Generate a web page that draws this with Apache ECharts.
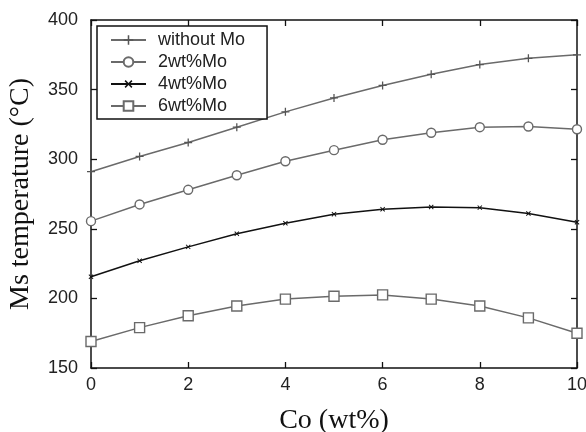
<!DOCTYPE html>
<html>
<head>
<meta charset="utf-8">
<script src="https://cdn.jsdelivr.net/npm/echarts@6/dist/echarts.min.js"></script>
<style>
  html, body { margin: 0; padding: 0; background: #fff; }
  #chart { width: 586px; height: 432px; }
</style>
</head>
<body>
<div id="chart"></div>
<script>
// Co content (wt%)
const coValues = [0, 1, 2, 3, 4, 5, 6, 7, 8, 9, 10];
const seriesNames = ['without Mo', '2wt%Mo', '4wt%Mo', '6wt%Mo'];
// Ms temperature (°C)
const withoutMo = [291, 302, 312, 323, 334, 344, 353, 361, 368, 372.5, 375];
const mo2 = [255.5, 267.5, 278, 288.5, 298.5, 306.5, 314, 319, 323, 323.5, 321.5];
const mo4 = [215.5, 227, 237, 246.5, 254, 260.5, 264, 265.7, 265.2, 261, 254.7];
const mo6 = [169, 179, 187.5, 194.5, 199.5, 201.5, 202.5, 199.5, 194.5, 186, 175];
const yTicks = [150, 200, 250, 300, 350, 400];
const xTicks = [0, 2, 4, 6, 8, 10];

const sans = 'Liberation Sans';
const serif = 'Liberation Serif';
const gray = '#6a6a6a';

// gnuplot-like point shapes
const plusPath = 'path://M4.2,0h1.6v4.2h4.2v1.6h-4.2v4.2h-1.6v-4.2h-4.2v-1.6h4.2z';

const frame = {
  show: true,
  onZero: false,
  lineStyle: { color: '#111', width: 1.5 },
};
const innerTick = {
  show: true,
  inside: true,
  length: 6,
  lineStyle: { color: '#111', width: 1.3 },
};

function pairs(values) {
  return coValues.map((x, i) => [x, values[i]]);
}

function line(name, values, opts) {
  return {
    name,
    type: 'line',
    data: pairs(values),
    xAxisIndex: 0,
    yAxisIndex: 0,
    lineStyle: { color: opts.color, width: 1.5 },
    itemStyle: opts.itemStyle,
    symbol: opts.symbol,
    symbolSize: opts.size,
    symbolRotate: opts.rotate || 0,
    showAllSymbol: true,
    animation: false,
    z: 3,
  };
}

const option = {
  backgroundColor: '#fff',
  animation: false,
  grid: { left: 91, right: 9, top: 20, bottom: 64, outerBoundsMode: 'none' },
  legend: {
    orient: 'vertical',
    left: 97,
    top: 26,
    padding: [5, 22, 4, 13],
    itemWidth: 35,
    itemHeight: 12,
    itemGap: 4,
    borderColor: '#111',
    borderWidth: 1.5,
    backgroundColor: '#fff',
    textStyle: { fontFamily: sans, fontSize: 18, color: '#222', padding: [0, 0, 0, 7], lineHeight: 17 },
    data: seriesNames,
  },
  xAxis: [
    {
      type: 'value',
      min: 0,
      max: 10,
      interval: 2,
      name: 'Co (wt%)',
      nameLocation: 'middle',
      nameGap: 39,
      nameTextStyle: { fontFamily: serif, fontSize: 28, color: '#111' },
      axisLine: frame,
      axisTick: innerTick,
      splitLine: { show: false },
      axisLabel: {
        fontFamily: sans,
        fontSize: 18,
        color: '#222',
        margin: 8,
        formatter: v => (xTicks.includes(v) ? String(v) : ''),
      },
    },
    {
      type: 'value',
      position: 'top',
      min: 0,
      max: 10,
      interval: 2,
      axisLine: frame,
      axisTick: innerTick,
      axisLabel: { show: false },
      splitLine: { show: false },
    },
  ],
  yAxis: [
    {
      type: 'value',
      min: 150,
      max: 400,
      interval: 50,
      name: 'Ms temperature (°C)',
      nameLocation: 'middle',
      nameGap: 56,
      nameTextStyle: { fontFamily: serif, fontSize: 28, color: '#111' },
      axisLine: frame,
      axisTick: innerTick,
      splitLine: { show: false },
      axisLabel: {
        fontFamily: sans,
        fontSize: 18,
        color: '#222',
        margin: 13,
        formatter: v => (yTicks.includes(v) ? String(v) : ''),
      },
    },
    {
      type: 'value',
      position: 'right',
      min: 150,
      max: 400,
      interval: 50,
      axisLine: frame,
      axisTick: innerTick,
      axisLabel: { show: false },
      splitLine: { show: false },
    },
  ],
  series: [
    line(seriesNames[0], withoutMo, {
      color: gray,
      symbol: plusPath,
      size: 8,
      itemStyle: { color: '#555' },
    }),
    line(seriesNames[1], mo2, {
      color: gray,
      symbol: 'circle',
      size: 9,
      itemStyle: { color: '#fff', borderColor: gray, borderWidth: 1.4 },
    }),
    line(seriesNames[2], mo4, {
      color: '#111',
      symbol: plusPath,
      size: 6,
      rotate: 45,
      itemStyle: { color: '#111' },
    }),
    line(seriesNames[3], mo6, {
      color: gray,
      symbol: 'rect',
      size: 10,
      itemStyle: { color: '#fff', borderColor: gray, borderWidth: 1.4 },
    }),
  ],
};

const chart = echarts.init(document.getElementById('chart'), null, { renderer: 'canvas' });
chart.setOption(option);
</script>
</body>
</html>
